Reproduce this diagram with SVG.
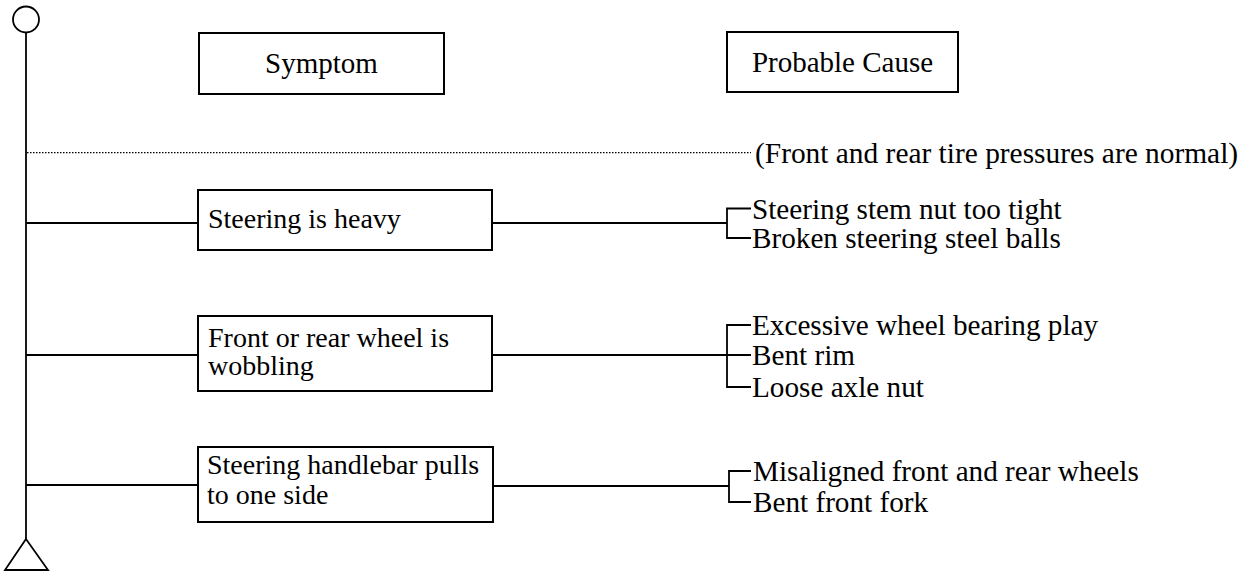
<svg xmlns="http://www.w3.org/2000/svg" width="1247" height="577" viewBox="0 0 1247 577">
<style>
.box{fill:#fff;stroke:#000;stroke-width:2}
.ln{fill:none;stroke:#000;stroke-width:1.8}
.dot{fill:none;stroke:#000;stroke-width:1.3;stroke-dasharray:1.5 1.5}
text{font-family:"Liberation Serif","Times New Roman",serif;font-size:28px;fill:#000}
.c{font-size:29.2px}
.h{font-size:29px}
</style>
<rect width="1247" height="577" fill="#fff"/>
<g id="connectors">
<circle class="ln" cx="26" cy="19.5" r="13"/>
<line class="ln" x1="26" y1="32.5" x2="26" y2="539"/>
<polygon class="ln" points="26,539 5,570 48,570"/>
<line class="dot" x1="27" y1="152.7" x2="751" y2="152.7"/>
<line class="ln" x1="26" y1="223" x2="198" y2="223"/>
<line class="ln" x1="26" y1="355" x2="198" y2="355"/>
<line class="ln" x1="26" y1="485" x2="198" y2="485"/>
<line class="ln" x1="492" y1="223" x2="727" y2="223"/>
<line class="ln" x1="492" y1="355" x2="727" y2="355"/>
<line class="ln" x1="493" y1="486" x2="729" y2="486"/>
<path class="ln" d="M751,208.5 H727 V238 H751"/>
<path class="ln" d="M751,325 H727 V387 H751 M727,355 H751"/>
<path class="ln" d="M751,471 H729 V502 H751"/>
</g>
<g id="header-symptom">
<rect class="box" x="199" y="33" width="245" height="61"/>
<text class="h" x="321.5" y="72.5" text-anchor="middle">Symptom</text>
</g>
<g id="header-cause">
<rect class="box" x="727" y="32" width="231" height="60"/>
<text class="h" x="842.5" y="71.5" text-anchor="middle">Probable Cause</text>
</g>
<g id="note">
<text class="c" x="755" y="162.5" style="font-size:29.4px">(Front and rear tire pressures are normal)</text>
</g>
<g id="symptom-1">
<rect class="box" x="198" y="190" width="294" height="60"/>
<text x="208" y="228">Steering is heavy</text>
</g>
<g id="symptom-2">
<rect class="box" x="198" y="316" width="294" height="75"/>
<text x="208" y="346.5">Front or rear wheel is</text>
<text x="208" y="375">wobbling</text>
</g>
<g id="symptom-3">
<rect class="box" x="198" y="447" width="295" height="75"/>
<text x="207" y="473.5">Steering handlebar pulls</text>
<text x="207" y="503.5">to one side</text>
</g>
<g id="causes-1">
<text class="c" x="752" y="218.5">Steering stem nut too tight</text>
<text class="c" x="752" y="248">Broken steering steel balls</text>
</g>
<g id="causes-2">
<text class="c" x="752" y="335">Excessive wheel bearing play</text>
<text class="c" x="752" y="365">Bent rim</text>
<text class="c" x="752" y="397">Loose axle nut</text>
</g>
<g id="causes-3">
<text class="c" x="753" y="481">Misaligned front and rear wheels</text>
<text class="c" x="753" y="512">Bent front fork</text>
</g>
</svg>
